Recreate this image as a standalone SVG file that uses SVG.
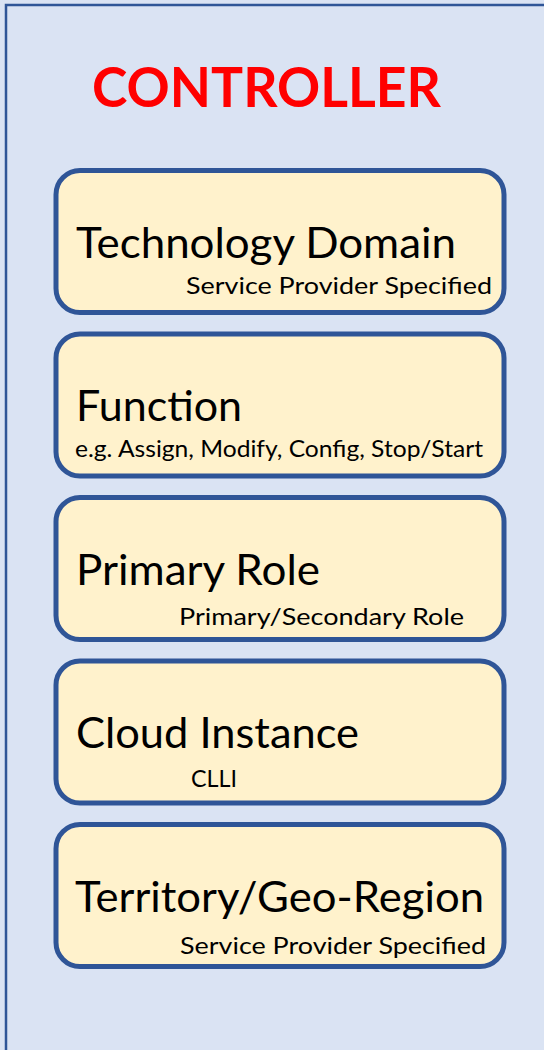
<svg xmlns="http://www.w3.org/2000/svg" width="544" height="1050" viewBox="0 0 544 1050">
<style>
.bg{fill:#DAE3F3;stroke:#2F5597;stroke-width:2.5}
.box{fill:#FFF2CC;stroke:#2F5597;stroke-width:5}
.main{font-family:Lato,"Open Sans","Liberation Sans",sans-serif;font-size:42px;fill:#000}
.sub{font-family:Lato,"Open Sans","Liberation Sans",sans-serif;font-size:23px;fill:#000}
.title{font-family:Lato,"Open Sans","Liberation Sans",sans-serif;font-size:56px;font-weight:bold;fill:#FF0000}
</style>
<rect x="-10" y="-10" width="570" height="1080" fill="#DAE3F3"/>
<rect class="bg" x="6" y="5" width="560" height="1070"/>
<text class="title" x="92" y="107" textLength="349" lengthAdjust="spacingAndGlyphs">CONTROLLER</text>
<g id="connectors"></g>
<g id="node-technology-domain">
<rect class="box" x="56" y="170.5" width="448" height="142" rx="24"/>
<text class="main" x="76" y="258" textLength="380" lengthAdjust="spacingAndGlyphs">Technology Domain</text>
<text class="sub" x="186" y="294" textLength="306" lengthAdjust="spacingAndGlyphs">Service Provider Specified</text>
</g>
<g id="node-function">
<rect class="box" x="56" y="334" width="448" height="142" rx="24"/>
<text class="main" x="76" y="421" textLength="166" lengthAdjust="spacingAndGlyphs">Function</text>
<text class="sub" x="75" y="457" textLength="408" lengthAdjust="spacingAndGlyphs">e.g. Assign, Modify, Config, Stop/Start</text>
</g>
<g id="node-primary-role">
<rect class="box" x="56" y="497.5" width="448" height="142" rx="24"/>
<text class="main" x="76" y="585" textLength="244" lengthAdjust="spacingAndGlyphs">Primary Role</text>
<text class="sub" x="179" y="625" textLength="285" lengthAdjust="spacingAndGlyphs">Primary/Secondary Role</text>
</g>
<g id="node-cloud-instance">
<rect class="box" x="56" y="661" width="448" height="142" rx="24"/>
<text class="main" x="76" y="748" textLength="283" lengthAdjust="spacingAndGlyphs">Cloud Instance</text>
<text class="sub" x="191" y="787" textLength="46" lengthAdjust="spacingAndGlyphs">CLLI</text>
</g>
<g id="node-territory">
<rect class="box" x="56" y="824.5" width="448" height="142" rx="24"/>
<text class="main" x="75" y="912" textLength="409" lengthAdjust="spacingAndGlyphs">Territory/Geo-Region</text>
<text class="sub" x="180" y="954" textLength="306" lengthAdjust="spacingAndGlyphs">Service Provider Specified</text>
</g>
</svg>
